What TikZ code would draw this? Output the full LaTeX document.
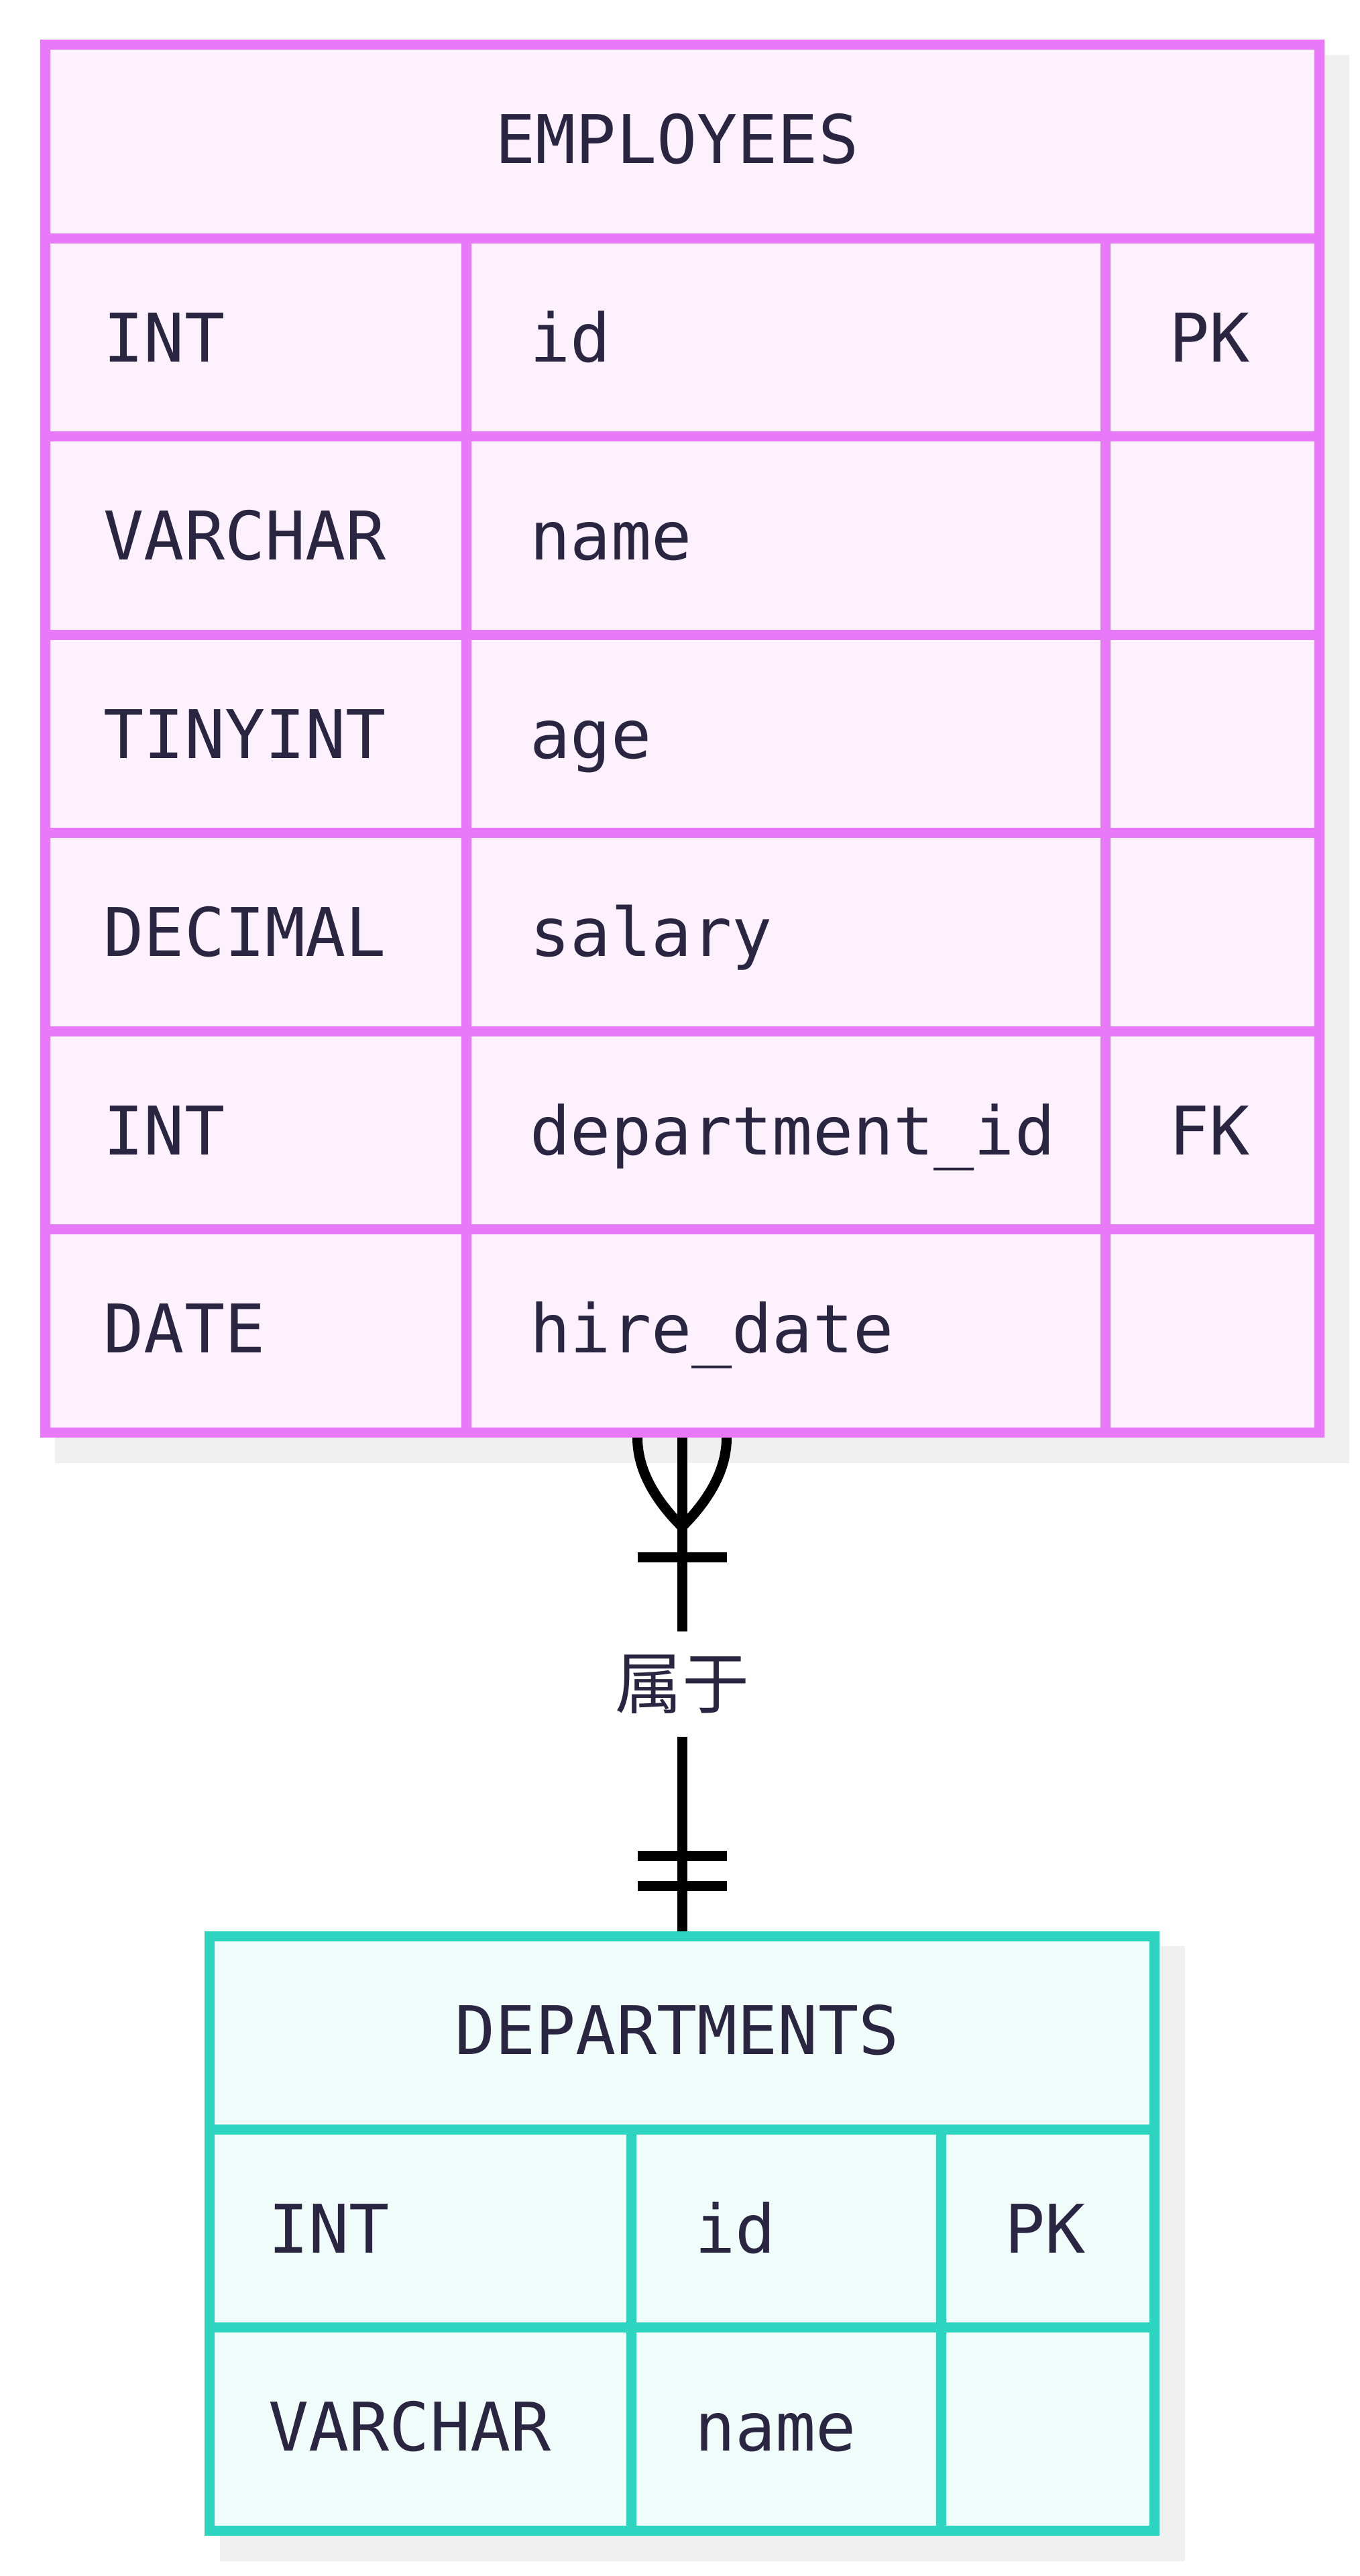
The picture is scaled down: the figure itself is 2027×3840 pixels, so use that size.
\documentclass[tikz,border=0pt]{standalone}
\usepackage{fontspec}
\setmonofont{DejaVu Sans Mono}
\newfontfamily\cjkfont{Noto Sans CJK SC}
\usepackage{tikz}
\usetikzlibrary{positioning, calc, backgrounds}
\definecolor{empline}{HTML}{E879F9}
\definecolor{empfill}{HTML}{FDF1FD}
\definecolor{depline}{HTML}{2DD4BF}
\definecolor{depfill}{HTML}{F0FCF9}
\definecolor{erdtext}{HTML}{2A2540}
\definecolor{erdshadow}{HTML}{F0F0F0}
\tikzset{
  % --- ER entity tables (outline | grid | cell text) ---
  entity/.style={draw, rectangle, anchor=north west, inner sep=0pt, line width=15pt},
  empbox/.style={entity, draw=empline, fill=empfill, minimum width=1900, minimum height=2068.5},
  depbox/.style={entity, draw=depline, fill=depfill, minimum width=1409, minimum height=886.5},
  empgrid/.style={draw=empline, line width=15pt},
  depgrid/.style={draw=depline, line width=15pt},
  cell/.style={font=\ttfamily\fontsize{100}{120}\selectfont, text=erdtext,
    inner sep=0pt, anchor=base west},
  title/.style={cell, anchor=base},
  % --- relationship (crow's foot) ---
  relline/.style={draw=black, line width=15pt},
  rellabel/.style={font=\cjkfont\fontsize{100}{120}\selectfont, text=erdtext, fill=white,
    minimum height=157, inner xsep=10pt, inner ysep=0pt},
}

\begin{document}
\begin{tikzpicture}[x=1pt, y=-1pt]
    \useasboundingbox (0,0) rectangle (2027,3840);
    % entities
    \node[empbox] (employees) at (59.5,59.5) {};
    \node[depbox] (departments) at (305,2878.5) {};
    % grid lines
    \foreach \k in {1,...,6}{ \draw[empgrid] ($(employees.north west)+(0,295.5*\k)$) -- ++(1900,0); }
    \foreach \x in {636,1589}{ \draw[empgrid] ($(employees.north west)+(\x,295.5)$) -- ($(employees.south west)+(\x,0)$); }
    \foreach \k in {1,2}{ \draw[depgrid] ($(departments.north west)+(0,295.5*\k)$) -- ++(1409,0); }
    \foreach \x in {636,1098}{ \draw[depgrid] ($(departments.north west)+(\x,295.5)$) -- ($(departments.south west)+(\x,0)$); }
    % EMPLOYEES cells
    \node[title] (emp-title) at (1009.5,243.75) {EMPLOYEES};
    \foreach \t/\n [count=\i] in {INT/id, VARCHAR/name, TINYINT/age, DECIMAL/salary,
        INT/department\_id, DATE/hire\_date}{
      \pgfmathsetmacro\y{243.75+295.5*\i}
      \node[cell] (emp-type-\i) at (154.5,\y) {\t};
      \node[cell] (emp-name-\i) at (790.5,\y) {\n};
    }
    \node[cell] (emp-key-1) at (1743.5,539.25) {PK};
    \node[cell] (emp-key-5) at (1743.5,1721.25) {FK};
    % DEPARTMENTS cells
    \node[title] (dep-title) at (1009.5,3062.75) {DEPARTMENTS};
    \foreach \t/\n [count=\i] in {INT/id, VARCHAR/name}{
      \pgfmathsetmacro\y{3062.75+295.5*\i}
      \node[cell] (dep-type-\i) at (400,\y) {\t};
      \node[cell] (dep-name-\i) at (1036,\y) {\n};
    }
    \node[cell] (dep-key-1) at (1498,3358.25) {PK};
    \begin{scope}[on background layer]
      \fill[white] (0,0) rectangle (2027,3840);
      % drop shadows
      \fill[erdshadow] ($(employees.north west)+(22.5,22.5)$) rectangle ($(employees.south east)+(37.5,37.5)$);
      \fill[erdshadow] ($(departments.north west)+(22.5,22.5)$) rectangle ($(departments.south east)+(37.5,37.5)$);
      % relationship line with label
      \draw[relline] (employees.south) -- node[rellabel] (rel-label) {属于} (departments.north);
      % one or more (EMPLOYEES end)
      \coordinate (many) at ($(employees.south)+(0,133)$);
      \draw[relline] ($(employees.south)+(-66.5,0)$) .. controls +(0,44.3) and +(-44.3,-44.3) .. (many);
      \draw[relline] ($(employees.south)+(66.5,0)$) .. controls +(0,44.3) and +(44.3,-44.3) .. (many);
      \draw[relline] ($(employees.south)+(-66.5,178)$) -- ++(133,0);
      % exactly one (DEPARTMENTS end)
      \draw[relline] ($(departments.north)+(-66.5,-112.5)$) -- ++(133,0);
      \draw[relline] ($(departments.north)+(-66.5,-67.5)$) -- ++(133,0);
    \end{scope}
\end{tikzpicture}
\end{document}
